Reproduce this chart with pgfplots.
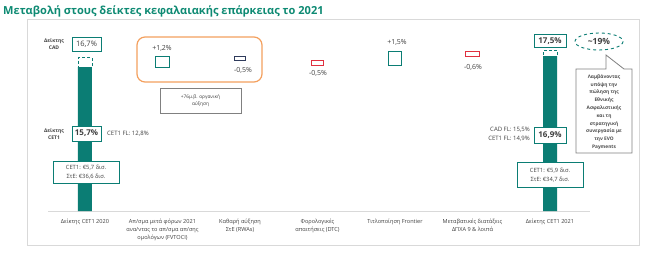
\documentclass[border=0pt]{standalone}
\usepackage{fontspec}
\setmainfont{Open Sans}
\usepackage{pgfplots}
\pgfplotsset{compat=1.18}
\definecolor{tealbar}{HTML}{0B7D74}
\definecolor{titlegreen}{HTML}{0E8A73}
\definecolor{redbox}{HTML}{E0303F}
\definecolor{navybox}{HTML}{2F3B5C}
\definecolor{orangebox}{HTML}{F4A05E}
\definecolor{txt}{HTML}{404040}
\begin{document}
\begin{tikzpicture}
\path[use as bounding box] (0,0) rectangle (656bp,264bp);
\begin{scope}[x=1bp,y=-1bp,yshift=264bp]
\draw[black!15, fill=white, line width=0.8bp] (27,19) rectangle (639,245);
\node[anchor=base west, text=titlegreen, font=\bfseries\fontsize{11.1}{13}\selectfont, inner sep=0] at (3,15) {Μεταβολή στους δείκτες κεφαλαιακής επάρκειας το 2021};
\draw[orangebox, line width=1.2bp, rounded corners=8bp] (137,37) rectangle (262,82);
\end{scope}
\begin{axis}[
  at={(48bp,53bp)}, anchor=south west,
  scale only axis, width=542bp, height=181bp,
  xmin=-0.477, xmax=6.516, ymin=0, ymax=19.74,
  axis y line=none, axis x line=bottom,
  x axis line style={-, draw=black!15, line width=0.8bp},
  ytick=\empty, xtick={0,1,2,3,4,5,6}, major tick length=0pt,
  xticklabels={{Δείκτης CET1 2020},{Απ/σμα μετά φόρων 2021\\ανα/ντας το απ/σμα απ/σης\\ομολόγων (FVTOCI)},{Καθαρή αύξηση\\ΣτΕ (RWAs)},{Φορολογικές\\απαιτήσεις (DTC)},{Τιτλοποίηση Frontier},{Μεταβατικές διατάξεις\\ΔΠΧΑ 9 \& λοιπά},{Δείκτης CET1 2021}},
  xticklabel style={font=\fontsize{5.6bp}{8bp}\selectfont, align=center, text=txt, anchor=north, inner sep=0pt, yshift=-7.5bp},
  clip=false,
]
% main CET1 bars
\addplot[ybar, bar width=14bp, fill=tealbar, draw=none] coordinates {(0,15.7) (6,16.9)};
% CAD dashed boxes
\addplot[draw=tealbar, fill=white, densely dashed, line width=0.8bp] coordinates {(-0.09,15.7) (0.09,15.7) (0.09,16.7) (-0.09,16.7)} -- cycle;
\addplot[draw=tealbar, fill=white, densely dashed, line width=0.8bp] coordinates {(5.91,16.9) (6.09,16.9) (6.09,17.5) (5.91,17.5)} -- cycle;
% waterfall steps
\addplot[draw=tealbar, fill=white, line width=1bp] coordinates {(0.91,15.7) (1.09,15.7) (1.09,16.9) (0.91,16.9)} -- cycle;
\addplot[draw=navybox, fill=white, line width=1bp] coordinates {(1.923,16.9) (2.077,16.9) (2.077,16.4) (1.923,16.4)} -- cycle;
\addplot[draw=redbox, fill=white, line width=1bp] coordinates {(2.923,16.4) (3.077,16.4) (3.077,15.9) (2.923,15.9)} -- cycle;
\addplot[draw=tealbar, fill=white, line width=1bp] coordinates {(3.91,15.9) (4.09,15.9) (4.09,17.4) (3.91,17.4)} -- cycle;
\addplot[draw=redbox, fill=white, line width=1bp] coordinates {(4.91,17.4) (5.09,17.4) (5.09,16.8) (4.91,16.8)} -- cycle;
\end{axis}
\begin{scope}[x=1bp,y=-1bp,yshift=264bp, every node/.style={text=txt, inner sep=0pt}]
% left side
\node[font=\bfseries\fontsize{5bp}{6.5bp}\selectfont, align=center] at (54,44) {Δείκτης\\CAD};
\node[draw=tealbar, fill=white, line width=0.9bp, minimum width=29bp, minimum height=14bp, font=\fontsize{7.5bp}{9bp}\selectfont] at (86.5,44) {16,7\%};
\node[font=\bfseries\fontsize{5bp}{6.5bp}\selectfont, align=center] at (54,134) {Δείκτης\\CET1};
\node[draw=tealbar, fill=white, line width=0.9bp, minimum width=29bp, minimum height=15bp, font=\bfseries\fontsize{8bp}{9bp}\selectfont] at (86.5,133.5) {15,7\%};
\node[anchor=west, font=\fontsize{6bp}{7bp}\selectfont] at (107,134) {CET1 FL: 12,8\%};
\node[draw=tealbar, fill=white, line width=0.9bp, minimum width=66bp, minimum height=22bp, align=center, font=\fontsize{5.8bp}{8.5bp}\selectfont] at (86,172) {CET1: €5,7 δισ.\\ΣτΕ: €36,6 δισ.};
% step labels
\node[font=\fontsize{7bp}{8bp}\selectfont] at (162,48) {+1,2\%};
\node[font=\fontsize{7bp}{8bp}\selectfont] at (243,70) {-0,5\%};
\node[draw=black!50, fill=white, line width=0.8bp, minimum width=81bp, minimum height=25bp, align=center, font=\fontsize{4.8bp}{7.5bp}\selectfont] at (200.5,100.5) {+76μ.β. οργανική\\αύξηση};
\node[font=\fontsize{7bp}{8bp}\selectfont] at (318,73) {-0,5\%};
\node[font=\fontsize{7bp}{8bp}\selectfont] at (397,42) {+1,5\%};
\node[font=\fontsize{7bp}{8bp}\selectfont] at (473,67) {-0,6\%};
% right side
\node[draw=tealbar, fill=white, line width=0.9bp, minimum width=32bp, minimum height=13bp, font=\bfseries\fontsize{8bp}{9bp}\selectfont] at (550,41) {17,5\%};
\draw[tealbar, dashed, line width=0.9bp, fill=white] (599,41.5) ellipse [x radius=24, y radius=8.5];
\node[font=\bfseries\fontsize{8.5bp}{9bp}\selectfont] at (599,41.5) {\textasciitilde19\%};
\draw[black!50, fill=white, line width=0.8bp] (576,69) -- (606,69) -- (606,55) -- (624,69) -- (632,69) -- (632,153) -- (576,153) -- cycle;
\node[align=center, font=\bfseries\fontsize{4.8bp}{7.8bp}\selectfont, text=black!70] at (604,112) {Λαμβάνοντας\\υπόψη την\\πώληση της\\Εθνικής\\Ασφαλιστικής\\και τη\\στρατηγική\\συνεργασία με\\την EVO\\Payments};
\node[anchor=east, align=right, font=\fontsize{6bp}{9bp}\selectfont] at (530,134.5) {CAD FL: 15,5\%\\CET1 FL: 14,9\%};
\node[draw=tealbar, fill=white, line width=0.9bp, minimum width=32bp, minimum height=16bp, font=\bfseries\fontsize{8bp}{9bp}\selectfont] at (550,135) {16,9\%};
\node[draw=tealbar, fill=white, line width=0.9bp, minimum width=66bp, minimum height=25bp, align=center, font=\fontsize{5.8bp}{8.5bp}\selectfont] at (550,175) {CET1: €5,9 δισ.\\ΣτΕ: €34,7 δισ.};
\end{scope}
\end{tikzpicture}
\end{document}
